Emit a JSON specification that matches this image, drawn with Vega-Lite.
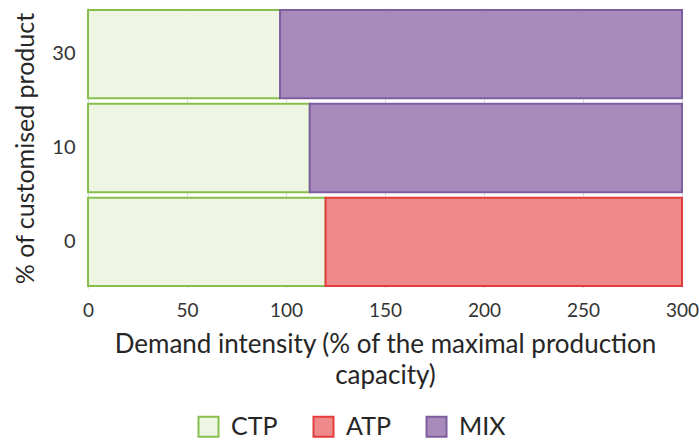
{
  "$schema": "https://vega.github.io/schema/vega-lite/v6.json",
  "width": 594,
  "height": 280,
  "autosize": "none",
  "padding": {"left": 88, "top": 8, "right": 17, "bottom": 152},
  "background": "white",
  "config": {
    "view": {"stroke": null},
    "font": "Lato",
    "axis": {"labelColor": "#333333", "titleColor": "#262626", "labelFont": "Lato", "titleFont": "Lato", "titleFontWeight": "normal"}
  },
  "data": {
    "values": [
      {"pct": "30", "scheme": "CTP", "value": 97, "ord": 1},
      {"pct": "30", "scheme": "MIX", "value": 203, "ord": 3},
      {"pct": "10", "scheme": "CTP", "value": 112, "ord": 1},
      {"pct": "10", "scheme": "MIX", "value": 188, "ord": 3},
      {"pct": "0", "scheme": "CTP", "value": 120, "ord": 1},
      {"pct": "0", "scheme": "ATP", "value": 180, "ord": 2}
    ]
  },
  "mark": {"type": "bar", "strokeWidth": 2},
  "encoding": {
    "y": {
      "field": "pct", "type": "nominal", "sort": ["30", "10", "0"],
      "scale": {"paddingInner": 0.06, "paddingOuter": 0.02},
      "axis": {"title": "% of customised product", "titleFontSize": 25, "labelFontSize": 20, "labelPadding": 13, "titlePadding": 13, "ticks": false, "domain": true, "domainColor": "#d9d9d9", "labelAngle": 0}
    },
    "x": {
      "field": "value", "type": "quantitative", "stack": "zero",
      "scale": {"domain": [0, 300], "nice": false},
      "axis": {"title": ["Demand intensity (% of the maximal production", "capacity)"], "titleFontSize": 26, "titleLineHeight": 31, "labelFontSize": 19, "labelFlush": false, "values": [0, 50, 100, 150, 200, 250, 300], "ticks": false, "domain": false, "grid": true, "gridColor": "#d9d9d9", "labelPadding": 13, "titlePadding": 11}
    },
    "order": {"field": "ord", "type": "quantitative"},
    "fill": {
      "field": "scheme", "type": "nominal",
      "scale": {"domain": ["CTP", "ATP", "MIX"], "range": ["#eef5e3", "#ef8a8a", "#a88bbb"]},
      "legend": {"title": null, "orient": "none", "direction": "horizontal", "legendX": 108, "legendY": 406, "symbolType": "square", "symbolSize": 400, "symbolStrokeWidth": 2, "labelFontSize": 25, "labelColor": "#262626", "labelFont": "Lato", "columnPadding": 31, "labelOffset": 10}
    },
    "stroke": {
      "field": "scheme", "type": "nominal",
      "scale": {"domain": ["CTP", "ATP", "MIX"], "range": ["#86bf4e", "#e23c3c", "#7e5ea0"]},
      "legend": {"title": null, "orient": "none", "direction": "horizontal", "legendX": 108, "legendY": 406, "symbolType": "square", "symbolSize": 400, "symbolStrokeWidth": 2, "labelFontSize": 25, "labelColor": "#262626", "labelFont": "Lato", "columnPadding": 31, "labelOffset": 10}
    }
  }
}
